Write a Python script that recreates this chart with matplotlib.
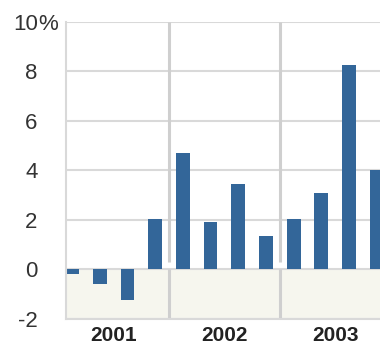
import matplotlib.pyplot as plt
from matplotlib.transforms import blended_transform_factory

# Dados trimestrais (%)
quarters = ["Q1", "Q2", "Q3", "Q4"] * 3
years = ["2001", "2002", "2003"]
values = [-0.2, -0.6, -1.25, 2.05, 4.7, 1.9, 3.45, 1.35, 2.05, 3.1, 8.25, 4.0]
y_ticks = [-2, 0, 2, 4, 6, 8, 10]
y_labels = ["-2", "0", "2", "4", "6", "8", "10"]

plt.rcParams["font.family"] = ["Liberation Sans", "DejaVu Sans"]

fig = plt.figure(figsize=(3.8, 3.43), dpi=100)
ax = fig.add_axes([0.174, 0.07, 0.826, 0.866])

x = list(range(len(values)))

# Fundo abaixo de zero
ax.axhspan(-2, 0, color="#f6f6ee", zorder=0)

# Grade horizontal
for t in y_ticks:
    ax.axhline(t, color="#d9d9d9", lw=1.5, zorder=1)

# Separadores de ano
for i in range(1, len(years)):
    sep = 4 * i - 0.5
    ax.vlines(sep, 0.3, 10, color="#cfcfcf", lw=2.2, zorder=1)
    ax.vlines(sep, -2, 0, color="#cfcfcf", lw=2.2, zorder=1)

ax.bar(x, values, width=0.5, color="#336699", zorder=2)

ax.set_xlim(-0.217, 11.12)
ax.set_ylim(-2, 10)

ax.set_yticks(y_ticks)
ax.set_yticklabels(y_labels, fontsize=16, color="#333333")
ax.tick_params(axis="y", length=0, pad=20.5)

# "%" depois do 10
trans = blended_transform_factory(fig.transFigure, ax.transData)
ax.text(38 / 380, 10, "%", transform=trans, fontsize=16, color="#333333",
        ha="left", va="center_baseline")

ax.set_xticks([4 * i + 1.5 for i in range(len(years))])
ax.set_xticklabels(years, fontsize=15, fontweight="bold", color="#222222")
ax.tick_params(axis="x", length=0, pad=5)

for side in ["top", "right"]:
    ax.spines[side].set_visible(False)
ax.spines["left"].set_color("#d9d9d9")
ax.spines["left"].set_linewidth(1.5)
ax.spines["bottom"].set_color("#d9d9d9")
ax.spines["bottom"].set_linewidth(1.5)

plt.savefig("out.png", dpi=100)
plt.close()
